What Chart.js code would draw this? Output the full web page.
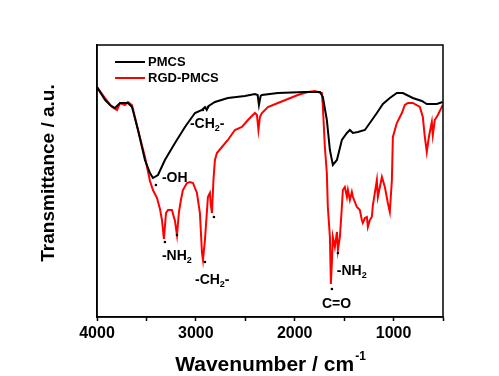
<!DOCTYPE html>
<html>
<head>
<meta charset="utf-8">
<script src="https://cdn.jsdelivr.net/npm/chart.js@4/dist/chart.umd.min.js"></script>
<style>
  html, body { margin: 0; padding: 0; background: #ffffff; }
  #wrap { width: 499px; height: 376px; position: relative; }
</style>
</head>
<body>
<div id="wrap"><canvas id="c" width="499" height="376"></canvas></div>
<script>
// ---- data (wavenumber in cm-1, transmittance in arbitrary units) ----
const seriesNames = ["PMCS", "RGD-PMCS"];
const seriesColors = ["#000000", "#ff0000"];

const pmcsWn = [4000,3919,3869,3818,3767,3717,3687,3646,3585,3515,3464,3434,3383,3313,3211,3110,3009,2938,2908,2890,2870,2807,2676,2504,2403,2375,2362,2345,2332,2170,1897,1796,1745,1715,1675,1644,1614,1573,1523,1472,1442,1411,1361,1290,1240,1169,1108,1038,967,906,805,714,664,563,502];
const pmcsT  = [230,217,212,209,214,214,214,210,187,157,144,139,142,157,174,190,204,207,210,207,211,215,219,221,223,222,212,221,222,224,225,225,225,220,197,167,152,157,177,184,187,184,185,187,194,204,213,219,224,224,219,216,213,213,215];

const rgdWn = [4000,3919,3848,3798,3767,3717,3687,3646,3585,3515,3464,3434,3393,3363,3343,3323,3302,3282,3242,3211,3191,3171,3151,3131,3090,3060,3029,2989,2959,2938,2928,2908,2878,2858,2848,2837,2822,2807,2787,2736,2676,2605,2534,2473,2403,2382,2367,2352,2332,2271,2170,2069,1968,1867,1796,1766,1725,1715,1695,1675,1665,1644,1634,1624,1614,1594,1573,1563,1543,1523,1513,1493,1472,1462,1442,1422,1411,1371,1341,1321,1311,1290,1270,1260,1240,1220,1209,1169,1159,1118,1088,1058,1038,1017,1007,967,916,886,855,805,734,704,684,664,643,613,603,583,552,502];
const rgdT  = [230,219,210,207,214,212,215,212,187,160,136,127,119,108,97,78,104,107,107,96,82,105,117,127,134,135,134,124,104,64,57,77,120,124,112,104,137,157,164,170,177,187,190,197,204,202,187,200,204,210,214,218,222,225,226,225,224,210,170,144,110,80,33,55,80,70,85,67,80,110,127,130,120,127,117,125,120,110,107,97,94,99,100,90,97,100,112,137,120,140,130,114,105,137,180,194,204,212,214,214,210,200,180,165,180,195,182,197,202,212];

// x tick labels (major ticks)
const xTickLabels = [4000, 3000, 2000, 1000];

// peak annotations: label text, subscript, trailing text, anchor (wavenumber, transmittance)
const annLabels = ["-OH", "-NH", "-CH", "-CH", "-NH", "C=O"];
const annSubs   = ["",    "2",   "2",   "2",   "2",   ""];
const annTails  = ["",    "",    "-",   "-",   "",    ""];
const annWn     = [3343, 3343, 3009, 3060, 1574, 1725];
const annT      = [135,  57,   33,   189,  42,   9];

// marker dots at peaks
const dotWn = [3404, 3313, 3191, 2908, 2817, 2928, 2878, 1563, 1624];
const dotT  = [132,  75,   82,   55,   100,  207,  210,  64,   28];

const xTitle = "Wavenumber / cm";
const xTitleSup = "-1";
const yTitle = "Transmittance / a.u.";

const FONT = "'Liberation Sans', Arial, Helvetica, sans-serif";

const toPts = (xs, ys) => xs.map((x, i) => ({ x: x, y: ys[i] }));

const decorPlugin = {
  id: 'decor',
  afterDatasetsDraw(chart) {
    const ctx = chart.ctx;
    const a = chart.chartArea;
    const xs = chart.scales.x, ys = chart.scales.y;
    ctx.save();
    // frame
    ctx.strokeStyle = '#000';
    ctx.lineWidth = 1.5;
    ctx.strokeRect(a.left, a.top, a.right - a.left, a.bottom - a.top);

    // dots
    ctx.fillStyle = '#000';
    for (let i = 0; i < dotWn.length; i++) {
      ctx.beginPath();
      ctx.arc(xs.getPixelForValue(dotWn[i]), ys.getPixelForValue(dotT[i]), 1.3, 0, Math.PI * 2);
      ctx.fill();
    }

    // annotation labels
    ctx.textBaseline = 'alphabetic';
    ctx.textAlign = 'left';
    for (let i = 0; i < annLabels.length; i++) {
      let px = xs.getPixelForValue(annWn[i]);
      const py = ys.getPixelForValue(annT[i]);
      ctx.font = "bold 14px " + FONT;
      ctx.fillText(annLabels[i], px, py);
      px += ctx.measureText(annLabels[i]).width;
      if (annSubs[i]) {
        ctx.font = "bold 9px " + FONT;
        ctx.fillText(annSubs[i], px, py + 3);
        px += ctx.measureText(annSubs[i]).width;
      }
      if (annTails[i]) {
        ctx.font = "bold 14px " + FONT;
        ctx.fillText(annTails[i], px, py);
      }
    }

    // legend
    ctx.textBaseline = 'middle';
    ctx.font = "bold 13px " + FONT;
    for (let i = 0; i < seriesNames.length; i++) {
      const ly = a.top + 17 + i * 16;
      ctx.strokeStyle = seriesColors[i];
      ctx.lineWidth = 2;
      ctx.beginPath();
      ctx.moveTo(a.left + 18, ly);
      ctx.lineTo(a.left + 48, ly);
      ctx.stroke();
      ctx.fillStyle = '#000';
      ctx.fillText(seriesNames[i], a.left + 51, ly);
    }

    // x title with superscript
    ctx.textBaseline = 'alphabetic';
    ctx.font = "bold 21px " + FONT;
    const w1 = ctx.measureText(xTitle).width;
    ctx.font = "bold 12px " + FONT;
    const w2 = ctx.measureText(xTitleSup).width;
    const cx = (a.left + a.right) / 2;
    let sx = cx - (w1 + w2) / 2;
    ctx.font = "bold 21px " + FONT;
    ctx.fillText(xTitle, sx, 371);
    ctx.font = "bold 12px " + FONT;
    ctx.fillText(xTitleSup, sx + w1 + 1, 360);

    // y title
    ctx.translate(54, 173);
    ctx.rotate(-Math.PI / 2);
    ctx.textAlign = 'center';
    ctx.font = "bold 19px " + FONT;
    ctx.fillText(yTitle, 0, 0);
    ctx.restore();
  }
};

new Chart(document.getElementById('c'), {
  type: 'line',
  data: {
    datasets: [
      { label: seriesNames[0], data: toPts(pmcsWn, pmcsT), borderColor: seriesColors[0], borderWidth: 2, pointRadius: 0, tension: 0, fill: false },
      { label: seriesNames[1], data: toPts(rgdWn, rgdT), borderColor: seriesColors[1], borderWidth: 2, pointRadius: 0, tension: 0, fill: false }
    ]
  },
  options: {
    responsive: false,
    animation: false,
    devicePixelRatio: 1,
    layout: { padding: { left: 0, top: 45, right: 56, bottom: 0 } },
    plugins: { legend: { display: false }, tooltip: { enabled: false } },
    scales: {
      x: {
        type: 'linear',
        reverse: true,
        min: 500,
        max: 4000,
        afterFit(s) { s.height = 59; },
        border: { display: true, color: '#000', width: 1.5 },
        grid: { display: true, drawOnChartArea: false, drawTicks: true, tickLength: 4, tickColor: '#000', tickWidth: 1.5 },
        ticks: {
          stepSize: 500,
          padding: 3,
          color: '#000',
          maxRotation: 0,
          autoSkip: false,
          font: { family: FONT, size: 16, weight: 'bold' },
          callback: (v) => (xTickLabels.indexOf(v) >= 0 ? String(v) : '')
        }
      },
      y: {
        min: 0,
        max: 272,
        afterFit(s) { s.width = 97; },
        border: { display: true, color: '#000', width: 1.5 },
        grid: { display: false },
        ticks: { display: false }
      }
    }
  },
  plugins: [decorPlugin]
});
</script>
</body>
</html>
